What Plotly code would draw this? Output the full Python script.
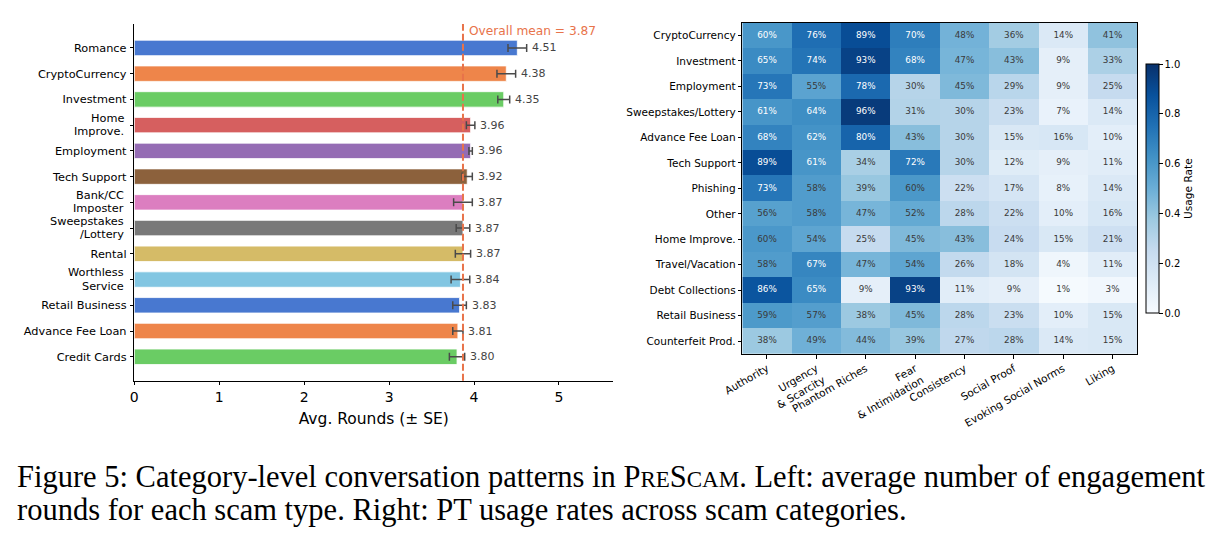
import plotly.graph_objects as go

# ---------------- data ----------------
bar_categories = ["Romance", "CryptoCurrency", "Investment", "Home\nImprove.", "Employment",
                  "Tech Support", "Bank/CC\nImposter", "Sweepstakes\n/Lottery", "Rental",
                  "Worthless\nService", "Retail Business", "Advance Fee Loan", "Credit Cards"]
bar_values = [4.51, 4.38, 4.35, 3.96, 3.96, 3.92, 3.87, 3.87, 3.87, 3.84, 3.83, 3.81, 3.80]
bar_se = [0.11, 0.11, 0.07, 0.05, 0.02, 0.06, 0.11, 0.08, 0.09, 0.11, 0.08, 0.06, 0.09]
bar_colors = ["#4878d0", "#ee854a", "#6acc64", "#d65f5f", "#956cb4", "#8c613c", "#dc7ec0",
              "#797979", "#d5bb67", "#82c6e2", "#4878d0", "#ee854a", "#6acc64"]
overall_mean = 3.87
x_ticks = [0, 1, 2, 3, 4, 5]

heat_rows = ["CryptoCurrency", "Investment", "Employment", "Sweepstakes/Lottery", "Advance Fee Loan",
             "Tech Support", "Phishing", "Other", "Home Improve.", "Travel/Vacation",
             "Debt Collections", "Retail Business", "Counterfeit Prod."]
heat_cols = ["Authority", "Urgency<br>& Scarcity", "Phantom Riches", "Fear<br>& Intimidation",
             "Consistency", "Social Proof", "Evoking Social Norms", "Liking"]
heat_values = [
    [0.603, 0.76, 0.89, 0.70, 0.48, 0.36, 0.14, 0.41],
    [0.65, 0.74, 0.93, 0.68, 0.47, 0.43, 0.09, 0.33],
    [0.73, 0.55, 0.78, 0.30, 0.45, 0.29, 0.09, 0.25],
    [0.61, 0.64, 0.96, 0.31, 0.30, 0.23, 0.07, 0.14],
    [0.68, 0.62, 0.80, 0.43, 0.30, 0.15, 0.16, 0.10],
    [0.89, 0.61, 0.34, 0.72, 0.30, 0.12, 0.09, 0.11],
    [0.73, 0.58, 0.39, 0.598, 0.22, 0.17, 0.08, 0.14],
    [0.56, 0.58, 0.47, 0.52, 0.28, 0.22, 0.10, 0.16],
    [0.597, 0.54, 0.25, 0.45, 0.43, 0.24, 0.15, 0.21],
    [0.58, 0.67, 0.47, 0.54, 0.26, 0.18, 0.04, 0.11],
    [0.86, 0.65, 0.09, 0.93, 0.11, 0.09, 0.01, 0.03],
    [0.59, 0.57, 0.38, 0.45, 0.28, 0.23, 0.10, 0.15],
    [0.38, 0.49, 0.44, 0.39, 0.27, 0.28, 0.14, 0.15],
]
cbar_ticks = [0.0, 0.2, 0.4, 0.6, 0.8, 1.0]

blues = [[0.0, "rgb(247,251,255)"], [0.125, "rgb(222,235,247)"], [0.25, "rgb(198,219,239)"],
         [0.375, "rgb(158,202,225)"], [0.5, "rgb(107,174,214)"], [0.625, "rgb(66,146,198)"],
         [0.75, "rgb(33,113,181)"], [0.875, "rgb(8,81,156)"], [1.0, "rgb(8,48,107)"]]

W, H = 1220, 541
def px_x(p): return p / W
def px_y(p): return (H - p) / H

MEAN_COLOR = "#e8734a"
FONT = "DejaVu Sans"
YLAB_SIZE = 11.3

fig = go.Figure()

# ---------------- left: bar chart ----------------
fig.add_trace(go.Bar(
    x=bar_values, y=bar_categories, orientation="h", width=0.6,
    marker=dict(color=bar_colors, line=dict(color="white", width=0.8)),
    error_x=dict(type="data", array=bar_se, color="#4a4a4a", thickness=1.5, width=4),
    xaxis="x", yaxis="y", showlegend=False, hoverinfo="skip",
))

for cat, v, se in zip(bar_categories, bar_values, bar_se):
    fig.add_annotation(x=v + se + 0.04, y=cat, xref="x", yref="y", text=f"{v:.2f}",
                       showarrow=False, xanchor="left", yanchor="middle",
                       font=dict(family=FONT, size=11, color="#444444"))

# two-line category labels drawn line by line (tight matplotlib-like spacing)
tick_text = []
for cat in bar_categories:
    parts = cat.split("\n")
    if len(parts) == 1:
        tick_text.append(cat)
    else:
        tick_text.append(" ")
        for k, part in enumerate(parts):
            fig.add_annotation(x=px_x(134.3), y=cat, xref="paper", yref="y", text=part,
                               showarrow=False, xanchor="right", yanchor="middle",
                               xshift=-9, yshift=6.6 if k == 0 else -6.6, borderpad=0,
                               font=dict(family=FONT, size=YLAB_SIZE, color="black"))

fig.add_shape(type="line", x0=overall_mean, x1=overall_mean, y0=0, y1=1,
              xref="x", yref="y domain",
              line=dict(color=MEAN_COLOR, width=2, dash="7px,3px"))
fig.add_annotation(x=overall_mean, y=-0.67, xref="x", yref="y",
                   text=f"Overall mean = {overall_mean:.2f}", showarrow=False,
                   xanchor="left", yanchor="middle", xshift=4,
                   font=dict(family=FONT, size=12.2, color=MEAN_COLOR))

n = len(bar_categories)
fig.update_layout(
    xaxis=dict(domain=[px_x(134.3), px_x(613.3)], anchor="y", range=[0, 5.64],
               tickvals=x_ticks, ticktext=[str(t) for t in x_ticks],
               showline=True, linecolor="black", linewidth=1, ticks="outside",
               ticklen=3.5, tickcolor="black", showgrid=False, zeroline=False,
               tickfont=dict(family=FONT, size=14, color="black"),
               title=dict(text="Avg. Rounds (± SE)", font=dict(family=FONT, size=15.5, color="black"),
                          standoff=9),
               automargin=False),
    yaxis=dict(domain=[px_y(380.7), px_y(24)], anchor="x", type="category",
               categoryorder="array", categoryarray=bar_categories,
               tickvals=bar_categories, ticktext=tick_text,
               range=[n - 1 + 0.93, -0.93], ticklabelstandoff=1,
               showline=True, linecolor="black", linewidth=1, ticks="outside",
               ticklen=3.5, tickcolor="black", showgrid=False, zeroline=False,
               tickfont=dict(family=FONT, size=YLAB_SIZE, color="black"), automargin=False),
)

# ---------------- right: heatmap ----------------
fig.add_trace(go.Heatmap(
    z=heat_values, x=heat_cols, y=heat_rows, zmin=0, zmax=1, colorscale=blues,
    xaxis="x2", yaxis="y2", hoverinfo="skip",
    colorbar=dict(x=px_x(1145.7), xanchor="left", xref="paper", xpad=0, ypad=0,
                  y=px_y(188.6), yanchor="middle", yref="paper",
                  len=249.3, lenmode="pixels", thickness=12.6, thicknessmode="pixels",
                  outlinewidth=1, outlinecolor="black",
                  tickvals=cbar_ticks, ticktext=[f"{t:.1f}" for t in cbar_ticks],
                  ticks="outside", ticklen=3.5, tickcolor="black",
                  tickfont=dict(family=FONT, size=10, color="black"),
                  title=dict(text="Usage Rate", side="right",
                             font=dict(family=FONT, size=10.6, color="black"))),
))

light_x, light_y, light_t, dark_x, dark_y, dark_t = [], [], [], [], [], []
for r, row in zip(heat_rows, heat_values):
    for c, v in zip(heat_cols, row):
        lbl = f"{round(v * 100):d}%"
        if v > 0.6:
            light_x.append(c); light_y.append(r); light_t.append(lbl)
        else:
            dark_x.append(c); dark_y.append(r); dark_t.append(lbl)

fig.add_trace(go.Scatter(x=light_x, y=light_y, text=light_t, mode="text",
                         textfont=dict(family=FONT, size=8.8, color="white"),
                         xaxis="x2", yaxis="y2", showlegend=False, hoverinfo="skip"))
fig.add_trace(go.Scatter(x=dark_x, y=dark_y, text=dark_t, mode="text",
                         textfont=dict(family=FONT, size=8.8, color="#3a3a3a"),
                         xaxis="x2", yaxis="y2", showlegend=False, hoverinfo="skip"))

fig.update_layout(
    xaxis2=dict(domain=[px_x(742.3), px_x(1137.3)], anchor="y2", type="category",
                categoryorder="array", categoryarray=heat_cols,
                range=[-0.5, len(heat_cols) - 0.5],
                showline=True, mirror=True, linecolor="black", linewidth=1,
                ticks="outside", ticklen=3.5, tickcolor="black", tickangle=-30,
                showgrid=False, zeroline=False,
                tickfont=dict(family=FONT, size=10.5, color="black"), automargin=False),
    yaxis2=dict(domain=[px_y(354), px_y(22.7)], anchor="x2", type="category",
                categoryorder="array", categoryarray=heat_rows,
                range=[len(heat_rows) - 0.5, -0.5],
                showline=True, mirror=True, linecolor="black", linewidth=1,
                ticks="outside", ticklen=3.5, tickcolor="black",
                showgrid=False, zeroline=False,
                tickfont=dict(family=FONT, size=10.5, color="black"), automargin=False),
)

# ---------------- caption ----------------
cap_font = dict(family="Liberation Serif", size=30.5, color="black")
sc = "font-size:23px"
fig.add_annotation(x=px_x(15), y=px_y(477), xref="paper", yref="paper", xanchor="left",
                   yanchor="middle", showarrow=False, font=cap_font,
                   text=("Figure 5: Category-level conversation patterns in "
                         f"P<span style='{sc}'>RE</span>S<span style='{sc}'>CAM</span>. "
                         "Left: average number of engagement"))
fig.add_annotation(x=px_x(15), y=px_y(510), xref="paper", yref="paper", xanchor="left",
                   yanchor="middle", showarrow=False, font=cap_font,
                   text="rounds for each scam type. Right: PT usage rates across scam categories.")

fig.update_layout(width=W, height=H, margin=dict(l=0, r=0, t=0, b=0),
                  paper_bgcolor="white", plot_bgcolor="white", showlegend=False,
                  font=dict(family=FONT))

fig.write_html("out.html")
